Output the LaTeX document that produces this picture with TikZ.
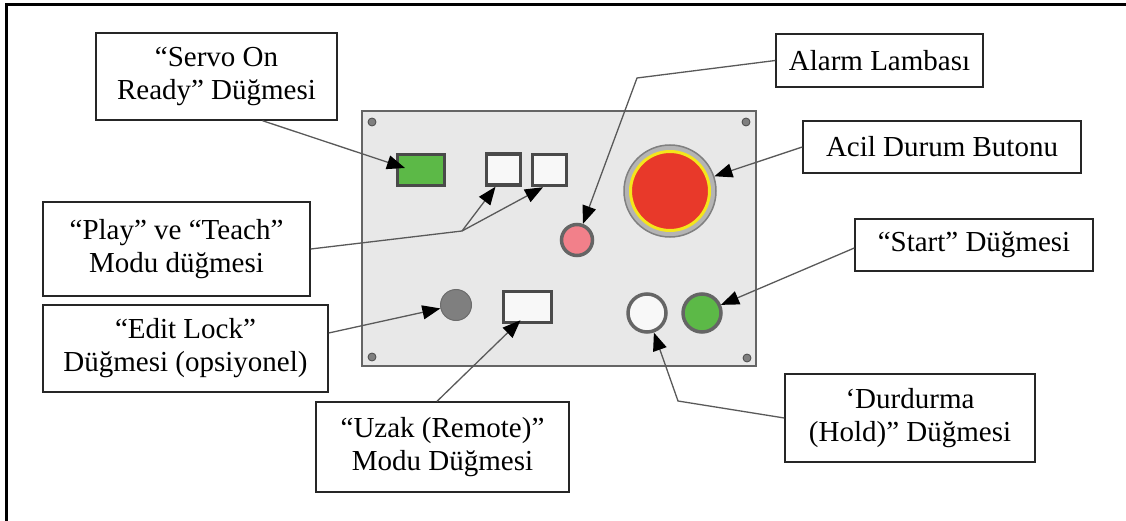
\documentclass[tikz,border=0pt]{standalone}
\usepackage{fontspec}
\setmainfont{Liberation Serif}
\usepackage{tikz}
\usetikzlibrary{arrows.meta}
\definecolor{panelgray}{HTML}{E8E8E8}
\definecolor{edgegray}{HTML}{4A4A4A}
\definecolor{linegray}{HTML}{595959}
\definecolor{btngreen}{HTML}{5CB947}
\definecolor{lampred}{HTML}{F2808A}
\definecolor{stopred}{HTML}{E8392A}
\definecolor{stopyellow}{HTML}{F4E61C}
\definecolor{ringgray}{HTML}{B4B4B4}
\definecolor{lockgray}{HTML}{7F7F7F}
\definecolor{btnwhite}{HTML}{F8F8F8}
\tikzset{
  label box/.style={draw=black!85, line width=1.4pt, fill=white, align=center, inner sep=0pt,
    font=\fontsize{29}{33}\selectfont},
  key/.style={draw=edgegray, line width=3.5pt, inner sep=0pt, minimum width=#1, minimum height=31pt},
  knob/.style={circle, draw=edgegray!85, line width=3.5pt, inner sep=0pt, minimum size=#1},
  pointer/.style={draw=linegray, line width=1.3pt, -{Triangle[length=18pt,width=14pt,color=black,fill=black]}},
  leader/.style={draw=linegray, line width=1.3pt},
  screw/.style={circle, fill=lockgray, draw=edgegray, line width=0.8pt, inner sep=0pt, minimum size=8pt}
}
\begin{document}
\begin{tikzpicture}[x=1pt, y=-1pt]
\useasboundingbox (0,0) rectangle (1126,521);
\draw [line width=3pt] (6,521) -- (6,4.5) -- (1126,4.5);
\draw [fill=panelgray, draw=edgegray!85, line width=1.4pt] (362,111) rectangle (756,366);
\node [screw] (s1) at (372,122) {};
\node [screw] (s2) at (746,122) {};
\node [screw] (s3) at (372,357) {};
\node [screw] (s4) at (747,358) {};
\node [key=47pt, fill=btngreen] (servo) at (421,170) {};
\node [key=34pt, fill=btnwhite] (play) at (503.5,169.5) {};
\node [key=34pt, fill=btnwhite] (teach) at (549.5,170) {};
\node [key=48pt, fill=btnwhite] (remote) at (527.5,307) {};
\node [knob=31pt, fill=lampred] (lamp) at (577,240) {};
\node [knob=31pt, fill=lockgray, draw=lockgray!85!black, line width=1pt] (lock) at (456,305) {};
\node [knob=38pt, fill=btnwhite] (hold) at (647,313) {};
\node [knob=38pt, fill=btngreen] (start) at (702,313) {};
\node [circle, fill=ringgray, draw=gray, line width=1.5pt, inner sep=0pt, minimum size=92pt] (estop) at (670,191) {};
\node [circle, fill=stopred, draw=stopyellow, line width=3pt, inner sep=0pt, minimum size=79pt] at (estop) {};
\node [label box, minimum width=241pt, minimum height=87pt] (lservo) at (216.5,76.5) {``Servo On\\Ready'' Düğmesi};
\node [label box, minimum width=207pt, minimum height=53pt] (lalarm) at (879.5,60.5) {Alarm Lambası};
\node [label box, minimum width=278pt, minimum height=52pt] (lacil) at (942,147) {Acil Durum Butonu};
\node [label box, minimum width=267pt, minimum height=94pt] (lplay) at (176.5,249) {``Play'' ve ``Teach''\\Modu düğmesi};
\node [label box, minimum width=285pt, minimum height=87pt] (ledit) at (185.5,348.5) {``Edit Lock''\\Düğmesi (opsiyonel)};
\node [label box, minimum width=253pt, minimum height=90pt] (luzak) at (442.5,447) {``Uzak (Remote)''\\Modu Düğmesi};
\node [label box, minimum width=238pt, minimum height=52pt] (lstart) at (974,245) {``Start'' Düğmesi};
\node [label box, minimum width=250pt, minimum height=88pt] (ldurd) at (910,418) {`Durdurma\\(Hold)'' Düğmesi};
\coordinate (fork) at (462,231);
\coordinate (bendA) at (637,78);
\coordinate (bendH) at (678,401);
\draw [pointer] ([xshift=46pt]lservo.south) -- ([xshift=-16pt,yshift=2pt]servo.center);
\draw [leader] (lplay.east) -- (fork);
\draw [pointer] (fork) -- ([xshift=-8pt]play.south);
\draw [pointer] (fork) -- ([xshift=-6.5pt]teach.south);
\draw [pointer] (lalarm.west) -- (bendA) -- (lamp);
\draw [pointer] (lacil.west) -- (estop);
\draw [pointer] ([yshift=15.5pt]ledit.east) -- (lock);
\draw [pointer] ([xshift=-5.5pt]luzak.north) -- ([xshift=-7pt,yshift=4pt]remote.south);
\draw [pointer] ([yshift=-3pt]lstart.west) -- (start);
\draw [pointer] (ldurd.west) -- (bendH) -- (hold);
\end{tikzpicture}
\end{document}
